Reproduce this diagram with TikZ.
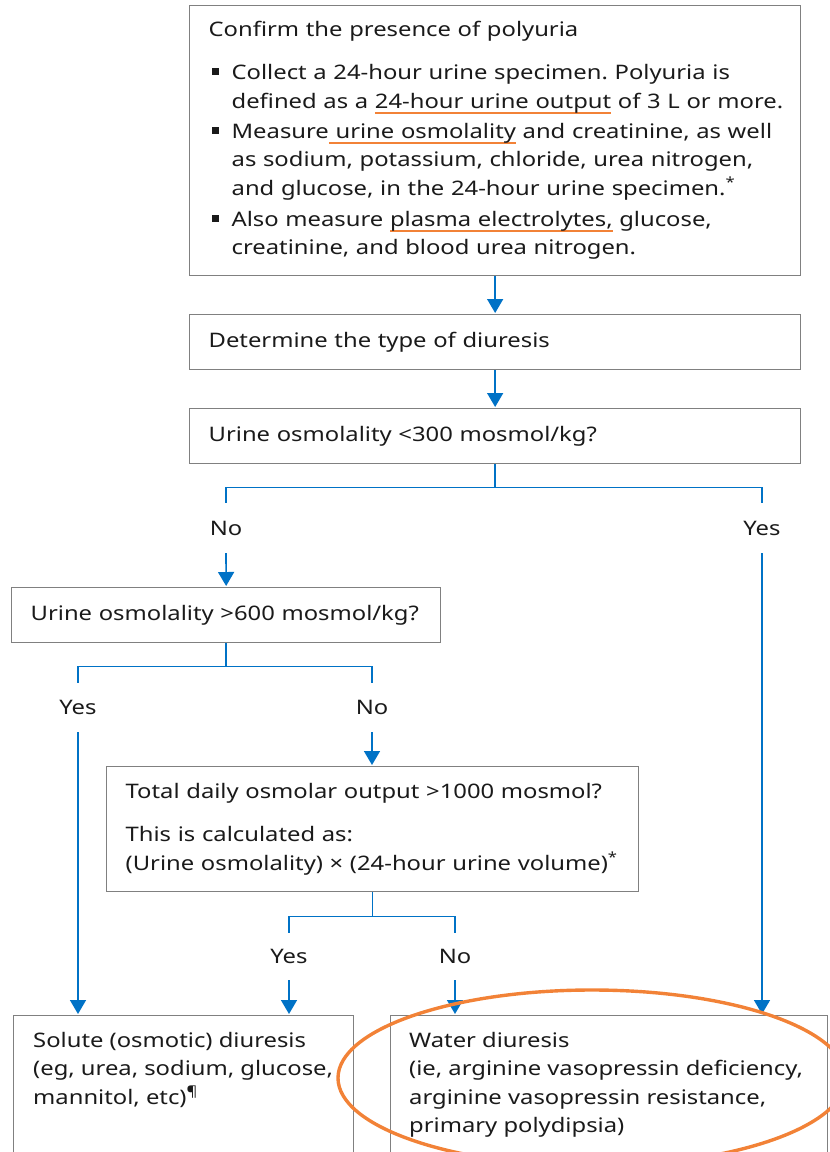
\documentclass[tikz,border=0pt]{standalone}
\usepackage{fontspec}
\setmainfont{Noto Sans}[FakeStretch=1.19]
\usetikzlibrary{arrows.meta}
\definecolor{conblue}{RGB}{0,114,198}
\definecolor{hiorange}{RGB}{242,130,55}
\definecolor{boxgray}{RGB}{128,128,128}
\definecolor{txtcol}{RGB}{26,26,26}
\frenchspacing
\newsavebox\ulbox
\newcommand\oul[1]{\sbox\ulbox{#1}\rlap{\textcolor{hiorange}{\rule[-6pt]{\wd\ulbox}{2.8pt}}}\usebox\ulbox}
\newcommand\bul{\makebox[23pt][l]{\hspace{3pt}\raisebox{4.5pt}{\rule{7pt}{7pt}}}}
\newcommand\cont{\hspace*{23pt}}
\tikzset{
  basefont/.style={font=\fontsize{20pt}{28.5pt}\selectfont, text=txtcol},
  box/.style={basefont, draw=boxgray, line width=1.3pt, inner xsep=19pt, inner ysep=0pt, anchor=north west, align=left},
  txt/.style={basefont, inner sep=0pt, anchor=north west, align=left},
  lab/.style={basefont, inner sep=0pt, text height=14.3pt, text depth=0pt},
  conn/.style={draw=conblue, line width=1.6pt},
  arr/.style={conn, -{Triangle[width=16pt,length=14pt]}, shorten >=1pt},
}
\begin{document}
\begin{tikzpicture}[x=1pt, y=-1pt]
\useasboundingbox (0,0) rectangle (830,1152);
% boxes
\node[box, text width=573pt, minimum height=270pt] (b1) at (189,5) {\mbox{Confirm the presence of polyuria}\\[14.5pt]
\mbox{\bul Collect a 24-hour urine specimen. Polyuria is}\\
\mbox{\cont defined as a \oul{24-hour urine output} of 3 L or more.}\\[1.5pt]
\mbox{\bul Measure\oul{ urine osmolality} and creatinine, as well}\\
\mbox{\cont as sodium, potassium, chloride, urea nitrogen,}\\
\mbox{\cont and glucose, in the 24-hour urine specimen.\textsuperscript{*}}\\[2.5pt]
\mbox{\bul Also measure \oul{plasma electrolytes,} glucose,}\\
\mbox{\cont creatinine, and blood urea nitrogen.}};
\node[box, text width=573pt, minimum height=55pt] (b2) at (189,314) {\mbox{Determine the type of diuresis}};
\node[box, text width=573pt, minimum height=55pt] (b3) at (189,408) {\mbox{Urine osmolality <300 mosmol/kg?}};
\node[box, text width=391pt, minimum height=55pt] (b4) at (11,587) {\mbox{Urine osmolality >600 mosmol/kg?}};
\node[box, text width=494pt, minimum height=125pt] (b5) at (106,766) {\mbox{Total daily osmolar output >1000 mosmol?}\\[14.5pt]
\mbox{This is calculated as:}\\\mbox{(Urine osmolality) × (24-hour urine volume)\textsuperscript{*}}};
\node[box, minimum width=340pt, minimum height=170pt] (sol) at (13,1015) {};
\node[box, minimum width=437pt, minimum height=170pt] (wat) at (390,1015) {};
\node[txt] (soltxt) at (33,1032) {Solute (osmotic) diuresis\\(eg, urea, sodium, glucose,\\mannitol, etc)\textsuperscript{¶}};
\node[txt] (wattxt) at (409,1032) {Water diuresis\\(ie, arginine vasopressin deficiency,\\arginine vasopressin resistance,\\primary polydipsia)};
% labels
\node[lab, minimum height=50pt] (no1) at (226,528) {No};
\node[lab, minimum height=50pt] (yes1) at (762,528) {Yes};
\node[lab, minimum height=49pt] (yes2) at (78,707.5) {Yes};
\node[lab, minimum height=49pt] (no2) at (372,707.5) {No};
\node[lab, minimum height=47pt] (yes3) at (289,956.5) {Yes};
\node[lab, minimum height=47pt] (no3) at (455,956.5) {No};
% connectors
\draw[arr] (b1.south -| b2.north) -- (b2.north);
\draw[arr] (b2.south) -- (b3.north);
\draw[conn] (b3.south) -- ++(0,23) coordinate (j1);
\draw[conn] (j1) -| (no1.north);
\draw[conn] (j1) -| (yes1.north);
\draw[arr] (no1.south) -- (b4.north);
\draw[arr] (yes1.south) -- (yes1.south |- wat.north);
\draw[conn] (b4.south) -- ++(0,23) coordinate (j2);
\draw[conn] (j2) -| (yes2.north);
\draw[conn] (j2) -| (no2.north);
\draw[arr] (yes2.south) -- (yes2.south |- sol.north);
\draw[arr] (no2.south) -- (no2.south |- b5.north);
\draw[conn] (b5.south) -- ++(0,24) coordinate (j3);
\draw[conn] (j3) -| (yes3.north);
\draw[conn] (j3) -| (no3.north);
\draw[arr] (yes3.south) -- (yes3.south |- sol.north);
\draw[arr] (no3.south) -- (no3.south |- wat.north);
% highlight ellipse
\draw[hiorange, line width=3.4pt] (592,1078) ellipse[x radius=254pt, y radius=88pt];
\end{tikzpicture}
\end{document}
